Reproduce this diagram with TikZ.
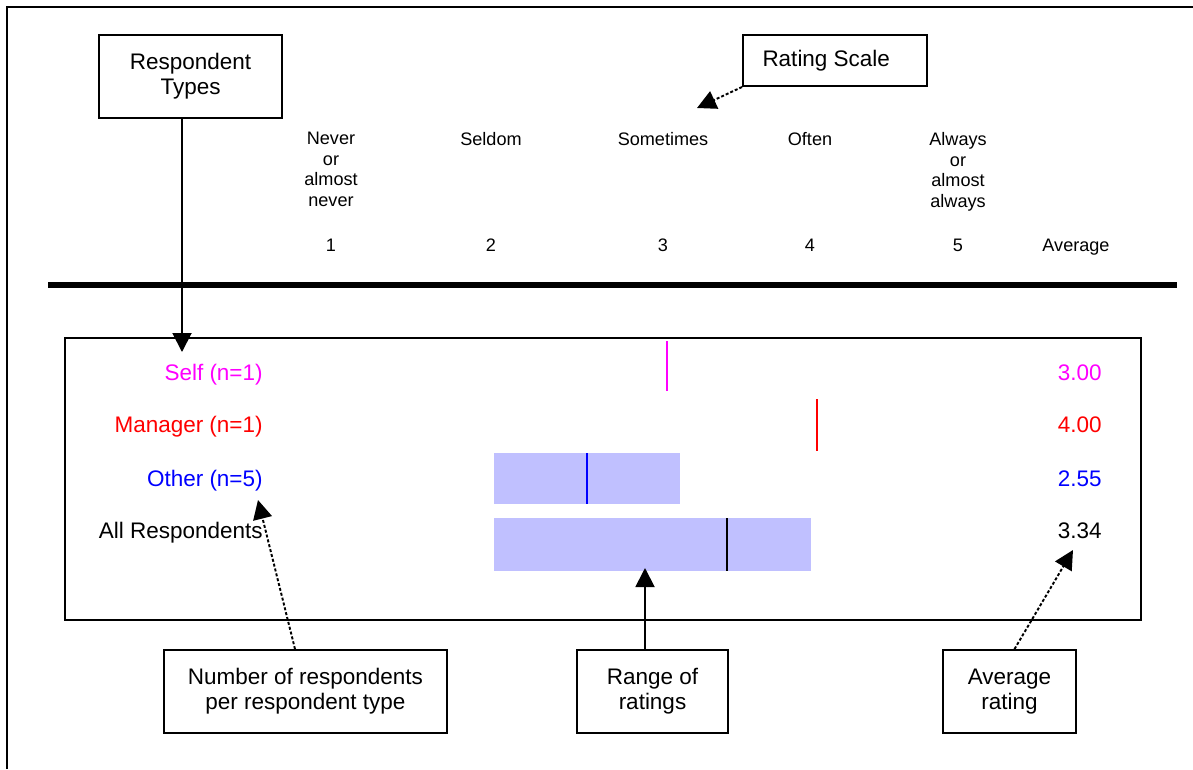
\documentclass[tikz,border=0pt]{standalone}
\usepackage{fontspec}
\setmainfont{Liberation Sans}
\usetikzlibrary{arrows.meta}
\definecolor{barra}{RGB}{192,192,255}
\definecolor{cSelf}{RGB}{255,0,255}
\definecolor{cMan}{RGB}{255,0,0}
\definecolor{cOther}{RGB}{0,0,255}
\tikzset{
  caja/.style={draw, line width=1.1pt, align=center, inner sep=0pt,
    font=\fontsize{12.8}{14.2}\selectfont},
  escalatxt/.style={anchor=north, align=center, inner sep=0pt,
    font=\fontsize{10.3}{11.7}\selectfont},
  numtxt/.style={anchor=base, inner sep=0pt, font=\fontsize{10.3}{11.7}\selectfont},
  fila/.style={anchor=base east, inner sep=0pt, font=\fontsize{12.8}{14.2}\selectfont},
  flecha/.style={line width=1.1pt, -{Triangle[length=0.38cm,width=0.38cm]}},
  punteada/.style={dash pattern=on 0.06cm off 0.04cm},
  marca/.style={line width=1.3pt}
}
\begin{document}
\begin{tikzpicture}[x=0.02cm, y=-0.02cm]
  \useasboundingbox (0,0) rectangle (1193,769);
  % Marco exterior
  \draw[line width=1.1pt] (7,769) -- (7,7) -- (1193,7);
  % Cajas de arriba
  \node[caja, minimum width=3.66cm, minimum height=1.66cm] (tipos) at (190.5,76.5) {Respondent\\Types};
  \node[caja, minimum width=3.68cm, minimum height=1.02cm] (escala) at (835,60.5) {\hspace*{-0.35cm}Rating Scale};
  \coordinate (pEscala) at (697,108);
  \draw[flecha, punteada] (escala.south west) -- (pEscala);
  % Escala de valoracion
  \node[escalatxt] (e1) at (331,132) {Never\\or\\almost\\never};
  \node[escalatxt] (e2) at (491,132) {Seldom};
  \node[escalatxt] (e3) at (663,132) {Sometimes};
  \node[escalatxt] (e4) at (810,132) {Often};
  \node[escalatxt] (e5) at (958,132) {Always\\or\\almost\\always};
  \foreach \n/\x in {1/331, 2/491, 3/663, 4/810, 5/958}
    \node[numtxt] (n\n) at (\x,251.5) {\n};
  \node[numtxt] (nAvg) at (1076,251.5) {Average};
  \draw[line width=3.4pt] (48,285) -- (1177,285);
  % Grafico
  \node[draw, line width=1.1pt, minimum width=21.52cm, minimum height=5.64cm, inner sep=0pt] (grafico) at (603,479) {};
  \node[fila, text=cSelf] (fSelf) at (263,380) {Self (n=1)};
  \node[fila, text=cMan] (fMan) at (263,432) {Manager (n=1)};
  \node[fila, text=cOther] (fOther) at (263,486) {Other (n=5)};
  \node[fila] (fAll) at (263,538) {All Respondents};
  \node[fila, text=cSelf] (aSelf) at (1102,380) {3.00};
  \node[fila, text=cMan] (aMan) at (1102,432) {4.00};
  \node[fila, text=cOther] (aOther) at (1102,486) {2.55};
  \node[fila] (aAll) at (1102,538) {3.34};
  \draw[marca, cSelf] (667,341) -- (667,391);
  \draw[marca, cMan] (817,399) -- (817,451);
  \node[fill=barra, inner sep=0pt, minimum width=3.72cm, minimum height=1.02cm] (bOther) at (587,478.5) {};
  \node[fill=barra, inner sep=0pt, minimum width=6.34cm, minimum height=1.06cm] (bAll) at (652.5,544.5) {};
  \draw[marca, cOther] (587,453) -- (587,504);
  \draw[marca, black] (727,518) -- (727,571);
  \coordinate (pTipos) at (182,352);
  \draw[flecha] (pTipos |- tipos.south) -- (pTipos);
  % Cajas de abajo
  \node[caja, minimum width=5.66cm, minimum height=1.66cm] (numero) at (305.5,691.5) {Number of respondents\\per respondent type};
  \node[caja, minimum width=3.02cm, minimum height=1.66cm] (rango) at (652.5,691.5) {Range of\\ratings};
  \node[caja, minimum width=2.66cm, minimum height=1.66cm] (promedio) at (1009.5,691.5) {Average\\rating};
  \coordinate (pNum) at (258,500);
  \coordinate (pRango) at (645,568);
  \coordinate (pProm) at (1073,550);
  \draw[flecha, punteada] ([xshift=-0.21cm]numero.north) -- (pNum);
  \draw[flecha] (pRango |- rango.north) -- (pRango);
  \draw[flecha, punteada] ([xshift=0.1cm]promedio.north) -- (pProm);
\end{tikzpicture}
\end{document}
